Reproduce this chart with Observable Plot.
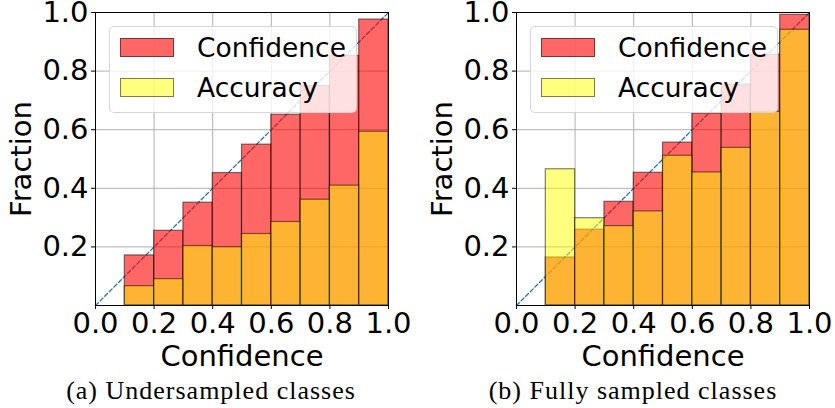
<!DOCTYPE html>
<html><head><meta charset="utf-8">
<script src="https://cdn.jsdelivr.net/npm/d3@7"></script>
<script src="https://cdn.jsdelivr.net/npm/@observablehq/plot@0.6"></script>
<style>
body{margin:0;background:#fff;width:835px;height:408px;overflow:hidden;position:relative}
.fig{position:absolute;top:0;height:408px}
.fig svg{overflow:visible}
.cap{position:absolute;top:378px;font-family:"Liberation Serif","DejaVu Serif",serif;font-size:26px;line-height:26px;letter-spacing:1px;white-space:nowrap;text-align:center}
.legend{position:absolute;top:26px;width:246px;height:85px;background:rgba(255,255,255,0.8);border:1px solid rgba(204,204,204,0.8);border-radius:5px}
.sw{position:absolute;left:10px;width:52px;height:17px;border:1px solid rgba(0,0,0,0.5)}
.lt{position:absolute;left:87px;font-family:"DejaVu Sans",sans-serif;font-size:26.5px;line-height:26.5px;white-space:nowrap}
</style></head><body>
<script>
// Bins (lower and upper edges); the 0.0-0.1 bin is empty in both panels
const binLo = [0.1, 0.2, 0.3, 0.4, 0.5, 0.6, 0.7, 0.8, 0.9];
const binHi = [0.2, 0.3, 0.4, 0.5, 0.6, 0.7, 0.8, 0.9, 1.0];
// (a) Undersampled classes
const confA = [0.171, 0.255, 0.351, 0.452, 0.549, 0.651, 0.749, 0.852, 0.976];
const accA  = [0.066, 0.090, 0.203, 0.199, 0.244, 0.285, 0.361, 0.409, 0.593];
// (b) Fully sampled classes
const confB = [0.164, 0.259, 0.354, 0.453, 0.556, 0.655, 0.754, 0.856, 0.992];
const accB  = [0.465, 0.298, 0.271, 0.321, 0.511, 0.454, 0.538, 0.661, 0.941];
const xTicks = [0, 0.2, 0.4, 0.6, 0.8, 1.0];
const yTicks = [0.2, 0.4, 0.6, 0.8, 1.0];
const gridX = [0.2, 0.4, 0.6, 0.8];
const gridY = [0.2, 0.4, 0.6, 0.8];
const diag = [0, 1];
const seriesNames = ["Confidence", "Accuracy"];
const captions = ["(a) Undersampled classes", "(b) Fully sampled classes"];

const RED = "red", YEL = "yellow";

function panel(conf, acc, opts) {
  const rows = binLo.map((lo, i) => ({lo, hi: binHi[i], conf: conf[i], acc: acc[i]}));
  return Plot.plot({
    width: opts.width, height: 372,
    marginLeft: opts.ml, marginRight: opts.mr, marginTop: 12, marginBottom: 67,
    style: {fontFamily: "DejaVu Sans, sans-serif", fontSize: "29px", color: "black", background: "white", overflow: "visible"},
    x: {domain: [0, 1], ticks: xTicks, tickFormat: d3.format(".1f"), label: "Confidence", labelAnchor: "center", labelOffset: 60, tickSize: 4, tickPadding: 3, labelArrow: "none"},
    y: {domain: [0, 1], ticks: yTicks, tickFormat: d3.format(".1f"), label: "Fraction", labelAnchor: "center", labelOffset: 85, tickSize: 4, tickPadding: 3, labelArrow: "none"},
    marks: [
      Plot.gridX(gridX, {stroke: "#b0b0b0", strokeOpacity: 1, strokeWidth: 1}),
      Plot.gridY(gridY, {stroke: "#b0b0b0", strokeOpacity: 1, strokeWidth: 1}),
      Plot.line(diag, {x: d => d, y: d => d, stroke: "#1f77b4", strokeWidth: 1.3, strokeDasharray: "4,2.5"}),
      Plot.rectY(rows, {x1: "lo", x2: "hi", y: "conf", fill: RED, fillOpacity: 0.6, stroke: "black", strokeOpacity: 0.5, strokeWidth: 1.2}),
      Plot.rectY(rows, {x1: "lo", x2: "hi", y: "acc", fill: YEL, fillOpacity: 0.5, stroke: "black", strokeOpacity: 0.5, strokeWidth: 1.2}),
      Plot.frame({stroke: "black", strokeWidth: 1})
    ]
  });
}

function figure(left, width, ml, mr, conf, acc, capText, capLeft, capWidth) {
  const fig = document.createElement("div");
  fig.className = "fig";
  fig.style.left = left + "px";
  fig.style.width = width + "px";
  fig.appendChild(panel(conf, acc, {width, ml, mr}));
  const lg = document.createElement("div");
  lg.className = "legend";
  lg.style.left = (ml + 14) + "px";
  const swColors = ["rgba(255,0,0,0.6)", "rgba(255,255,0,0.5)"];
  seriesNames.forEach((name, i) => {
    const sw = document.createElement("div");
    sw.className = "sw";
    sw.style.top = (11 + 40 * i) + "px";
    sw.style.background = swColors[i];
    lg.appendChild(sw);
    const t = document.createElement("div");
    t.className = "lt";
    t.style.top = (8 + 40 * i) + "px";
    t.textContent = name;
    lg.appendChild(t);
  });
  fig.appendChild(lg);
  const cap = document.createElement("div");
  cap.className = "cap";
  cap.style.left = capLeft + "px";
  cap.style.width = capWidth + "px";
  cap.textContent = capText;
  fig.appendChild(cap);
  document.body.appendChild(fig);
}

figure(0, 417, 95, 29, confA, accA, captions[0], 0, 422);
figure(417, 418, 99, 26, confB, accB, captions[1], 0, 432);
</script>
</body></html>
